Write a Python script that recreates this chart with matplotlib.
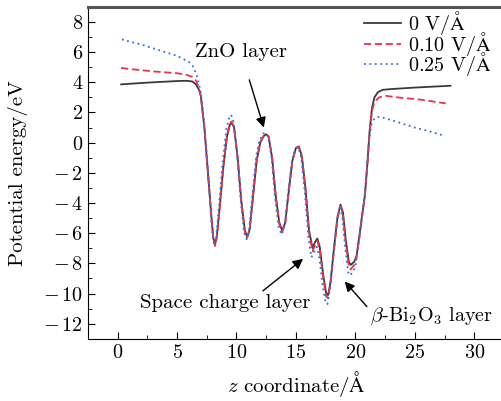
import matplotlib
matplotlib.use("Agg")
import matplotlib.pyplot as plt
from matplotlib.ticker import FuncFormatter

plt.rcParams['font.family'] = ['cmr10', 'DejaVu Serif']
plt.rcParams['mathtext.fontset'] = 'cm'
plt.rcParams['axes.formatter.use_mathtext'] = True
plt.rcParams['font.size'] = 15

# black curve, 0 V/A
z0 = [0.3, 1, 2, 3, 4, 5, 5.8, 6.3, 6.6, 6.85, 7.0, 7.3, 7.6, 7.9, 8.05, 8.2, 8.35, 8.6, 8.9, 9.2, 9.45, 9.6,
      9.8, 10.1, 10.4, 10.7, 10.9, 11.1, 11.4, 11.7, 12.0, 12.3, 12.5, 12.7, 13.0, 13.3, 13.6, 13.85, 14.1,
      14.4, 14.7, 15.0, 15.25, 15.5, 15.8, 16.1, 16.4, 16.6, 16.8, 17.0, 17.3, 17.55, 17.7, 17.9, 18.2, 18.5,
      18.75, 18.95, 19.2, 19.45, 19.6, 19.9, 20.1, 20.4, 20.6, 20.8, 21.0, 21.2, 21.4, 21.6, 21.9, 22.3, 23,
      25, 28]
v0 = [3.86, 3.9, 3.95, 4.0, 4.04, 4.08, 4.1, 4.05, 3.85, 3.5, 3.1, 1.0, -2.0, -5.0, -6.3, -6.75, -6.2, -4.2,
      -1.6, 0.4, 1.2, 1.32, 1.0, -1.0, -3.8, -5.8, -6.25, -5.8, -3.5, -1.2, 0.0, 0.45, 0.55, 0.4, -1.0, -3.5,
      -5.3, -5.85, -5.3, -3.2, -1.2, -0.35, -0.25, -0.9, -3.0, -5.8, -7.0, -6.6, -6.35, -6.9, -8.8, -10.0,
      -10.1, -9.3, -7.0, -4.9, -4.1, -4.6, -6.5, -7.9, -8.1, -7.9, -7.5, -5.8, -4.6, -3.5, -1.5, 0.8, 2.3,
      3.0, 3.35, 3.5, 3.55, 3.65, 3.77]

# red dashed curve, 0.10 V/A
z1 = [0.3, 1, 2, 3, 4, 5, 5.8, 6.3, 6.6, 6.85, 7.0, 7.3, 7.6, 7.9, 8.05, 8.2, 8.35, 8.6, 8.9, 9.2, 9.45, 9.6,
      9.8, 10.1, 10.4, 10.7, 10.9, 11.1, 11.4, 11.7, 12.0, 12.3, 12.5, 12.7, 13.0, 13.3, 13.6, 13.85, 14.1,
      14.4, 14.7, 15.0, 15.25, 15.5, 15.8, 16.1, 16.4, 16.6, 16.8, 17.0, 17.3, 17.55, 17.7, 17.9, 18.2, 18.5,
      18.75, 18.95, 19.2, 19.45, 19.6, 19.9, 20.1, 20.4, 20.6, 20.8, 21.0, 21.2, 21.4, 21.6, 22.0, 22.6, 23.5,
      25.5, 27.6]
v1 = [4.95, 4.88, 4.8, 4.72, 4.66, 4.6, 4.5, 4.35, 4.1, 3.6, 3.1, 1.0, -2.0, -5.0, -6.4, -6.85, -6.3, -4.2,
      -1.5, 0.5, 1.3, 1.4, 1.0, -1.0, -3.9, -5.9, -6.3, -5.8, -3.5, -1.1, 0.05, 0.48, 0.55, 0.4, -1.0, -3.6,
      -5.4, -5.9, -5.3, -3.2, -1.2, -0.35, -0.28, -1.0, -3.1, -6.0, -7.2, -6.8, -6.5, -7.1, -9.0, -10.2,
      -10.3, -9.4, -7.1, -5.0, -4.2, -4.7, -6.7, -8.2, -8.4, -8.1, -7.6, -5.9, -4.7, -3.5, -1.6, 0.7, 2.1,
      2.7, 3.0, 3.1, 3.0, 2.85, 2.6]

# blue dotted curve, 0.25 V/A
z2 = [0.36, 1, 2, 3, 4, 5, 5.5, 6.0, 6.3, 6.6, 6.85, 7.0, 7.3, 7.6, 7.85, 8.0, 8.15, 8.3, 8.55, 8.85, 9.15,
      9.4, 9.55, 9.75, 10.05, 10.35, 10.65, 10.85, 11.05, 11.35, 11.65, 11.95, 12.25, 12.45, 12.65, 12.95,
      13.25, 13.55, 13.8, 14.05, 14.35, 14.65, 14.95, 15.2, 15.45, 15.75, 16.05, 16.3, 16.55, 16.75, 16.95,
      17.25, 17.5, 17.65, 17.85, 18.15, 18.45, 18.7, 18.9, 19.15, 19.4, 19.55, 19.85, 20.05, 20.35, 20.55,
      20.75, 20.95, 21.15, 21.35, 21.6, 21.9, 22.2, 23, 24, 25, 26, 27.3]
v2 = [6.84, 6.7, 6.5, 6.25, 6.0, 5.75, 5.55, 5.35, 5.1, 4.6, 3.9, 3.3, 1.2, -1.8, -4.8, -6.2, -6.8, -6.3,
      -4.0, -1.2, 0.9, 1.7, 1.84, 1.4, -0.8, -3.8, -6.0, -6.4, -5.9, -3.4, -0.9, 0.2, 0.6, 0.65, 0.45, -1.0,
      -3.7, -5.6, -6.1, -5.5, -3.3, -1.3, -0.4, -0.3, -1.0, -3.3, -6.3, -7.6, -7.2, -6.9, -7.5, -9.5, -10.6,
      -10.7, -9.8, -7.4, -5.2, -4.3, -4.9, -7.0, -8.6, -8.8, -8.5, -8.0, -6.2, -5.0, -3.8, -1.8, 0.2, 1.2,
      1.6, 1.7, 1.68, 1.5, 1.25, 1.0, 0.8, 0.5]

series = [(z0, v0, '0 V/$\\mathrm{\\AA}$', '#3a3a3a', '-'),
          (z1, v1, '0.10 V/$\\mathrm{\\AA}$', '#ee3344', (0, (4, 2))),
          (z2, v2, '0.25 V/$\\mathrm{\\AA}$', '#2f6fdf', (0, (1, 2)))]

fig = plt.figure(figsize=(5.02, 4.01), dpi=100)
ax = fig.add_axes([0.175, 0.155, 0.829, 0.828])

for z, v, lab, col, ls in series:
    ax.plot(z, v, color=col, linestyle=ls, linewidth=1.3, label=lab)

ax.set_xlim(-2.5, 32.5)
ax.set_ylim(-13, 9)
ax.set_xticks([0, 5, 10, 15, 20, 25, 30])
ax.set_xticks([-2.5, 2.5, 7.5, 12.5, 17.5, 22.5, 27.5], minor=True)
ax.set_yticks(range(-12, 9, 2))
ax.set_yticks(range(-13, 10, 1), minor=True)
ax.yaxis.set_major_formatter(FuncFormatter(
    lambda v, p: '$-\\,%d$' % abs(v) if v < 0 else '$%d$' % v))
ax.xaxis.set_major_formatter(FuncFormatter(lambda v, p: '$%d$' % v))
ax.tick_params(which='both', direction='in', top=False, right=False)
ax.tick_params(which='major', length=5, labelsize=14.5)
ax.tick_params(which='minor', length=3)
ax.spines['right'].set_visible(False)
ax.spines['top'].set_linewidth(2.2)
ax.spines['top'].set_color('#555555')

ax.set_xlabel('$z$ coordinate/$\\mathrm{\\AA}$', labelpad=5)
ax.set_ylabel('Potential energy/eV', labelpad=11)

ax.annotate('ZnO layer', xy=(12.3, 1.0), xytext=(6.5, 6.0), va='center',
            arrowprops=dict(arrowstyle='-|>', color='black', lw=1.0, shrinkA=12, shrinkB=0))
ax.annotate('Space charge layer', xy=(15.6, -7.7), xytext=(1.9, -10.6), va='center',
            arrowprops=dict(arrowstyle='-|>', color='black', lw=1.0, shrinkA=0, shrinkB=0,
                            relpos=(0.7, 1.0)))
ax.annotate('$\\beta$-Bi$_2$O$_3$ layer', xy=(19.1, -9.2), xytext=(21.2, -11.5), va='center',
            fontsize=14.5,
            arrowprops=dict(arrowstyle='-|>', color='black', lw=1.0, shrinkA=0, shrinkB=0,
                            relpos=(0.0, 0.8)))

ax.legend(loc='upper right', frameon=False, fontsize=14.5, handlelength=1.8, handletextpad=0.35,
          labelspacing=-0.36, borderaxespad=0.0, borderpad=0.1, bbox_to_anchor=(0.975, 1.0))

fig.savefig('out.png', dpi=100)
